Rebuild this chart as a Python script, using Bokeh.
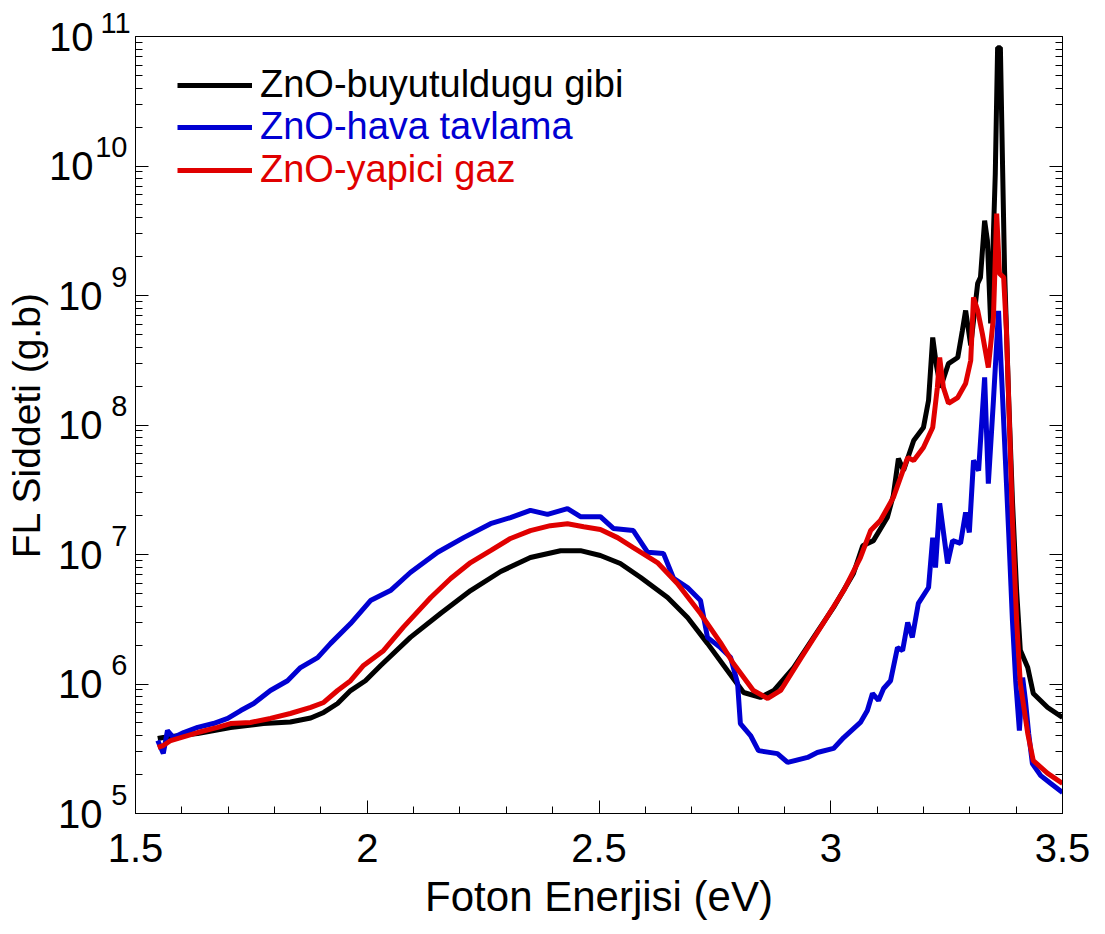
import math
from bokeh.plotting import figure
from bokeh.models import (Range1d, LogAxis, Legend, LegendItem, Title,
                          FixedTicker, CustomJSTickFormatter)
from bokeh.embed import file_html
from bokeh.resources import INLINE

FONT = "Liberation Sans"

# ---------------- data ----------------
energy_grown = [1.548, 1.560, 1.634, 1.705, 1.776, 1.834, 1.878, 1.906, 1.936, 1.964,
                1.996, 2.029, 2.093, 2.158, 2.223, 2.288, 2.352, 2.417, 2.460, 2.503,
                2.546, 2.590, 2.648, 2.691, 2.734, 2.777, 2.812, 2.848, 2.877, 2.920,
                2.963, 3.006, 3.049, 3.069, 3.092, 3.122, 3.135, 3.146, 3.157, 3.179,
                3.200, 3.211, 3.220, 3.228, 3.237, 3.254, 3.274, 3.284, 3.291, 3.302,
                3.317, 3.323, 3.332, 3.338, 3.345, 3.355, 3.360, 3.366, 3.371, 3.375,
                3.384, 3.392, 3.401, 3.409, 3.425, 3.437, 3.468, 3.500]
intensity_grown = [3.79e5, 3.86e5, 4.15e5, 4.62e5, 4.95e5, 5.09e5, 5.46e5, 6.03e5, 7.07e5, 8.9e5,
                   1.06e6, 1.39e6, 2.29e6, 3.50e6, 5.27e6, 7.39e6, 9.48e6, 1.07e7, 1.07e7, 9.82e6,
                   8.52e6, 6.64e6, 4.66e6, 3.26e6, 2.06e6, 1.27e6, 8.6e5, 7.87e5, 8.9e5, 1.34e6,
                   2.29e6, 3.90e6, 7.13e6, 1.17e7, 1.28e7, 1.93e7, 2.86e7, 5.51e7, 4.45e7, 7.6e7,
                   9.57e7, 1.55e8, 4.74e8, 2.88e8, 1.95e8, 2.98e8, 3.32e8, 5.37e8, 7.66e8, 4.11e8,
                   1.24e9, 1.38e9, 3.79e9, 2.66e9, 6.08e8, 8.75e9, 8.2e10, 8.2e10, 8.75e9, 1.56e9,
                   1.55e8, 2.61e7, 5.27e6, 1.82e6, 1.34e6, 8.45e5, 6.59e5, 5.51e5]

energy_air = [1.548, 1.560, 1.569, 1.582, 1.604, 1.634, 1.668, 1.699, 1.727, 1.755,
              1.791, 1.828, 1.856, 1.893, 1.921, 1.964, 2.007, 2.050, 2.093, 2.152,
              2.208, 2.266, 2.309, 2.352, 2.389, 2.432, 2.460, 2.503, 2.531, 2.574,
              2.605, 2.639, 2.661, 2.691, 2.719, 2.734, 2.762, 2.784, 2.799, 2.805,
              2.827, 2.844, 2.885, 2.907, 2.950, 2.971, 3.006, 3.028, 3.064, 3.079,
              3.090, 3.103, 3.114, 3.129, 3.144, 3.155, 3.166, 3.176, 3.189, 3.211,
              3.220, 3.226, 3.235, 3.252, 3.263, 3.280, 3.291, 3.299, 3.308, 3.319,
              3.332, 3.340, 3.351, 3.362, 3.371, 3.384, 3.392, 3.399, 3.407, 3.414,
              3.420, 3.427, 3.435, 3.453, 3.474, 3.500]
intensity_air = [3.66e5, 2.91e5, 4.37e5, 3.86e5, 4.22e5, 4.62e5, 4.95e5, 5.42e5, 6.24e5, 7.07e5,
                 8.91e5, 1.06e6, 1.34e6, 1.60e6, 2.06e6, 2.93e6, 4.41e6, 5.27e6, 7.26e6, 1.04e7,
                 1.35e7, 1.73e7, 1.93e7, 2.19e7, 2.04e7, 2.26e7, 1.96e7, 1.96e7, 1.59e7, 1.53e7,
                 1.04e7, 1.02e7, 6.53e6, 5.56e6, 4.41e6, 2.29e6, 1.91e6, 1.60e6, 1.01e6, 4.95e5,
                 4.0e5, 3.06e5, 2.9e5, 2.48e5, 2.71e5, 2.96e5, 3.18e5, 3.86e5, 5.05e5, 6.24e5,
                 8.45e5, 7.46e5, 9.23e5, 1.06e6, 1.91e6, 1.81e6, 2.99e6, 2.29e6, 4.19e6, 5.56e6,
                 1.35e7, 7.94e6, 2.48e7, 8.53e6, 1.28e7, 1.22e7, 2.11e7, 1.48e7, 5.32e7, 4.45e7,
                 2.33e8, 3.53e7, 1.55e8, 7.6e8, 1.55e8, 1.45e7, 3.09e6, 1.06e6, 4.37e5, 1.12e6,
                 7.46e5, 4.15e5, 2.43e5, 1.96e5, 1.71e5, 1.45e5]

energy_gas = [1.548, 1.560, 1.576, 1.634, 1.677, 1.705, 1.748, 1.791, 1.834, 1.878,
              1.906, 1.936, 1.964, 1.992, 2.035, 2.078, 2.137, 2.180, 2.223, 2.266,
              2.309, 2.352, 2.395, 2.432, 2.467, 2.503, 2.540, 2.574, 2.626, 2.669,
              2.719, 2.762, 2.790, 2.833, 2.864, 2.892, 2.935, 2.978, 3.028, 3.064,
              3.086, 3.107, 3.135, 3.166, 3.179, 3.200, 3.220, 3.230, 3.235, 3.243,
              3.254, 3.274, 3.291, 3.302, 3.308, 3.317, 3.327, 3.340, 3.351, 3.358,
              3.364, 3.373, 3.379, 3.386, 3.392, 3.401, 3.409, 3.425, 3.437, 3.468,
              3.500]
intensity_gas = [3.24e5, 3.35e5, 3.66e5, 4.22e5, 4.62e5, 4.95e5, 5.05e5, 5.42e5, 5.92e5, 6.59e5,
                 7.2e5, 8.91e5, 1.06e6, 1.39e6, 1.81e6, 2.75e6, 4.66e6, 6.53e6, 8.67e6, 1.07e7,
                 1.33e7, 1.53e7, 1.67e7, 1.73e7, 1.64e7, 1.56e7, 1.35e7, 1.13e7, 8.67e6, 5.97e6,
                 3.50e6, 2.09e6, 1.44e6, 8.91e5, 7.73e5, 8.91e5, 1.57e6, 2.73e6, 5.27e6, 9.48e6,
                 1.53e7, 1.83e7, 2.75e7, 5.61e7, 5.32e7, 6.70e7, 9.57e7, 1.95e8, 3.32e8, 1.95e8,
                 1.47e8, 1.63e8, 2.09e8, 3.15e8, 9.66e8, 7.66e8, 5.09e8, 2.78e8, 6.76e8, 4.29e9,
                 1.48e9, 1.38e9, 5.37e8, 9.07e7, 1.83e7, 3.09e6, 1.01e6, 4.15e5, 2.56e5, 2.04e5,
                 1.71e5]

series_names = ["ZnO-buyutuldugu gibi", "ZnO-hava tavlama", "ZnO-yapici gaz"]
series_colors = ["#000000", "#0000d2", "#e00000"]

x_major_ticks = [1.5, 2.0, 2.5, 3.0, 3.5]
x_minor_ticks = [1.6, 1.7, 1.8, 1.9, 2.1, 2.2, 2.3, 2.4, 2.6, 2.7, 2.8, 2.9,
                 3.1, 3.2, 3.3, 3.4]
y_exponents = [5, 6, 7, 8, 9, 10, 11]
y_title = "FL Siddeti (g.b)"
x_title = "Foton Enerjisi (eV)"

# ---------------- layout constants ----------------
W, H = 1105, 934
LEFT_B, TOP_B, BOTTOM_B, RIGHT_B = 135, 36, 121, 43
Y_LO, Y_HI = 1e5, 1e11
EXP_RAISE_PX = 19

frame_h = H - TOP_B - BOTTOM_B
px_per_decade = frame_h / (math.log10(Y_HI) - math.log10(Y_LO))
shift = 10 ** (-EXP_RAISE_PX / px_per_decade)

p = figure(width=W, height=H,
           x_range=Range1d(1.5, 3.5), y_range=Range1d(Y_LO, Y_HI),
           y_axis_type="log", output_backend="svg", toolbar_location=None,
           min_border_left=LEFT_B, min_border_right=RIGHT_B,
           min_border_top=TOP_B, min_border_bottom=BOTTOM_B,
           x_axis_label=x_title)
p.extra_y_ranges = {"exp": Range1d(Y_LO * shift, Y_HI * shift)}
p.grid.visible = False
p.outline_line_color = "black"
p.outline_line_width = 1

y_major = [10.0 ** k for k in y_exponents]
y_minor = [m * 10.0 ** k for k in y_exponents[:-1] for m in range(2, 10)]
empty_fmt = CustomJSTickFormatter(code="return ''")

xa = p.xaxis[0]
xa.ticker = FixedTicker(ticks=x_major_ticks, minor_ticks=x_minor_ticks)
xa.major_label_overrides = {1.5: "1.5", 2.0: "2", 2.5: "2.5", 3.0: "3", 3.5: "3.5"}

ya = p.yaxis[0]
ya.ticker = FixedTicker(ticks=y_major, minor_ticks=y_minor)
ya.formatter = empty_fmt

ra = LogAxis(ticker=FixedTicker(ticks=y_major, minor_ticks=y_minor), formatter=empty_fmt)
p.add_layout(ra, "right")

for ax in [xa, ya, ra]:
    ax.major_tick_in = 13
    ax.major_tick_out = 0
    ax.minor_tick_in = 7
    ax.minor_tick_out = 0
    ax.axis_line_color = "black"
    ax.major_tick_line_color = "black"
    ax.minor_tick_line_color = "black"
    ax.major_label_text_font = FONT
    ax.major_label_text_color = "black"
    ax.axis_label_text_font = FONT
    ax.axis_label_text_font_style = "normal"
    ax.axis_label_text_color = "black"

xa.major_label_text_font_size = "40px"
xa.major_label_standoff = 20
xa.axis_label_text_font_size = "42px"
xa.axis_label_standoff = 8
ya.major_label_standoff = 0
ra.major_label_standoff = 0


def label_axis(ticks, labels, size, standoff, y_range_name="default"):
    ax = LogAxis(ticker=FixedTicker(ticks=ticks), y_range_name=y_range_name,
                 major_label_overrides=dict(zip(ticks, labels)))
    ax.axis_line_alpha = 0
    ax.major_tick_in = 0
    ax.major_tick_out = 0
    ax.minor_tick_in = 0
    ax.minor_tick_out = 0
    ax.major_label_standoff = standoff
    ax.major_label_text_font = FONT
    ax.major_label_text_font_size = size
    ax.major_label_text_color = "black"
    ax.axis_label_text_font = FONT
    ax.axis_label_text_font_style = "normal"
    ax.axis_label_text_color = "black"
    p.add_layout(ax, "left")
    return ax


# exponents (raised by using a shifted copy of the y range)
exp_ks = y_exponents[:-1]
label_axis([10.0 ** k for k in exp_ks], [str(k) for k in exp_ks], "29px", 8, "exp")
# base "10" for one-digit exponents, then for two-digit exponents
one_digit = [k for k in y_exponents if k < 10]
two_digit = [k for k in y_exponents if k >= 10]
label_axis([10.0 ** k for k in one_digit], ["10"] * len(one_digit), "40px", -10)
base2 = label_axis([10.0 ** k for k in two_digit], ["10"] * len(two_digit), "40px", -38)
base2.axis_label = y_title
base2.axis_label_text_font_size = "39px"
base2.axis_label_standoff = -2

# exponent of the top tick sits above the frame: placed as a title
p.add_layout(Title(text=str(y_exponents[-1]), align="left", offset=-35, standoff=7,
                   vertical_align="bottom",
                   text_font=FONT, text_font_size="29px", text_font_style="normal",
                   text_color="black"), "above")

r_grown = p.line(energy_grown, intensity_grown, line_color=series_colors[0], line_width=5)
r_air = p.line(energy_air, intensity_air, line_color=series_colors[1], line_width=5)
r_gas = p.line(energy_gas, intensity_gas, line_color=series_colors[2], line_width=5)

renderers = [r_grown, r_air, r_gas]
legend_y = [707, 665, 622]
for name, color, rend, ly in zip(series_names, series_colors, renderers, legend_y):
    lg = Legend(items=[LegendItem(label=name, renderers=[rend])],
                location=(42, ly), border_line_alpha=0, background_fill_alpha=0,
                padding=0, margin=0, glyph_width=75, glyph_height=40,
                label_height=40, label_standoff=8,
                label_text_font=FONT, label_text_font_size="38px",
                label_text_color=color)
    p.add_layout(lg)

open("out.html", "w").write(file_html(p, INLINE))
